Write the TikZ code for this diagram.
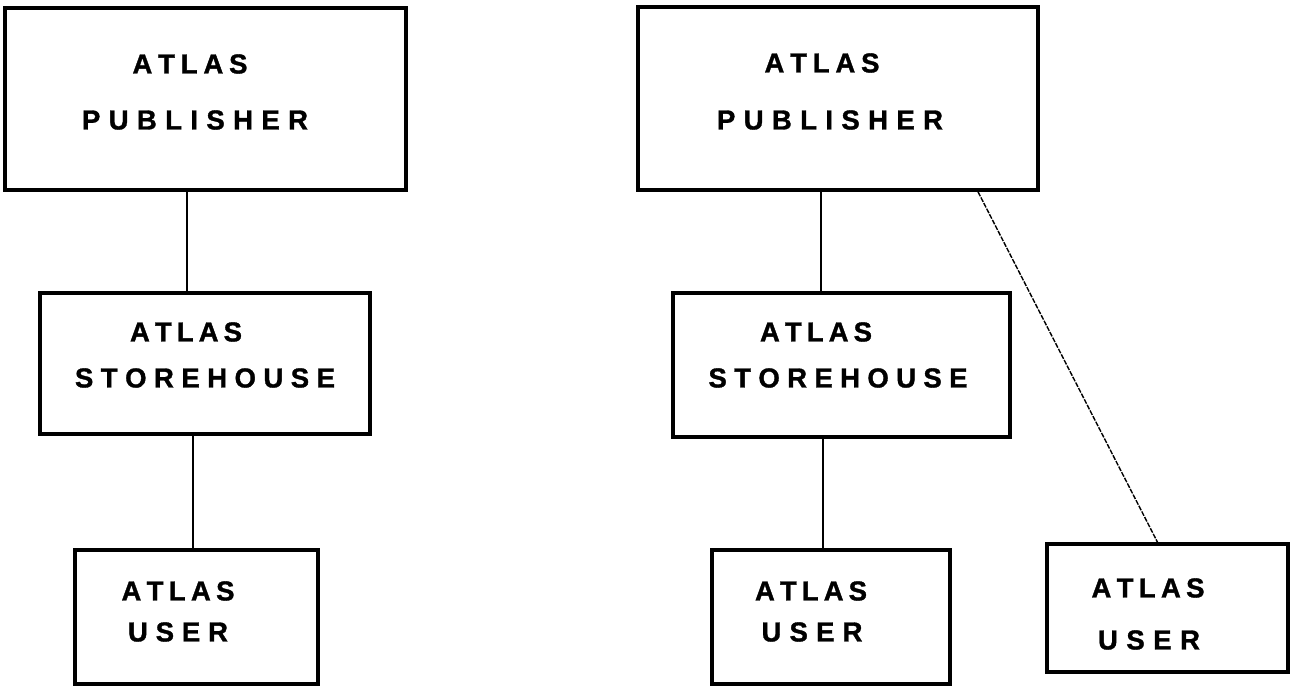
\documentclass[tikz,border=0pt]{standalone}
\usepackage{fontspec}
\newfontfamily\labelfont[FakeBold=1.2]{Liberation Sans}
\newcommand{\spreadtext}[2]{\makebox[#1][s]{#2}}
\tikzset{
  box/.style 2 args={draw, line width=3.6pt, minimum width=#1, minimum height=#2, inner sep=0pt},
  word/.style={inner sep=0pt, font=\labelfont\bfseries\fontsize{27.5}{27.5}\selectfont},
  link/.style={line width=2.2pt},
  thinlink/.style={line width=1.4pt, dash pattern=on 5pt off 1.3pt}
}
\begin{document}
\begin{tikzpicture}[x=1pt,y=1pt]
\useasboundingbox (0,0) rectangle (1298,689);

% left chain
\node[box={401}{182}] (lpub) at (205.5,590) {};
\node[word] (lpubA) at (190,625) {\spreadtext{115pt}{A T L A S}};
\node[word] (lpubB) at (195,569) {\spreadtext{226pt}{P U B L I S H E R}};

\node[box={330}{141}] (lstore) at (205,325.5) {};
\node[word] (lstoreA) at (186,357) {\spreadtext{112pt}{A T L A S}};
\node[word] (lstoreB) at (205,311) {\spreadtext{260pt}{S T O R E H O U S E}};

\node[box={243}{134}] (luser) at (196.5,72) {};
\node[word] (luserA) at (178,98) {\spreadtext{113pt}{A T L A S}};
\node[word] (luserB) at (178,57) {\spreadtext{100pt}{U S E R}};

% right tree
\node[box={400}{183}] (rpub) at (838,590.5) {};
\node[word] (rpubA) at (822,626) {\spreadtext{115pt}{A T L A S}};
\node[word] (rpubB) at (830,569) {\spreadtext{226pt}{P U B L I S H E R}};

\node[box={337}{144}] (rstore) at (841.5,324) {};
\node[word] (rstoreA) at (816,357) {\spreadtext{112pt}{A T L A S}};
\node[word] (rstoreB) at (838,311) {\spreadtext{259pt}{S T O R E H O U S E}};

\node[box={238}{134}] (ruserA) at (831,72) {};
\node[word] (ruserAa) at (811,98) {\spreadtext{112pt}{A T L A S}};
\node[word] (ruserAb) at (812,57) {\spreadtext{101pt}{U S E R}};

\node[box={241}{128}] (ruserB) at (1167.5,81) {};
\node[word] (ruserBa) at (1148,101) {\spreadtext{113pt}{A T L A S}};
\node[word] (ruserBb) at (1149,49) {\spreadtext{102pt}{U S E R}};

% connectors
\draw[link] ([xshift=-18.5pt]lpub.south) -- ([xshift=-18.5pt]lpub.south |- lstore.north);
\draw[link] ([xshift=-12pt]lstore.south) -- ([xshift=-12pt]lstore.south |- luser.north);
\draw[link] ([xshift=-17pt]rpub.south) -- ([xshift=-17pt]rpub.south |- rstore.north);
\draw[link] ([xshift=-18.5pt]rstore.south) -- ([xshift=-18.5pt]rstore.south |- ruserA.north);
\draw[thinlink] ([xshift=140pt]rpub.south) -- ([xshift=-10pt]ruserB.north);
\end{tikzpicture}
\end{document}
